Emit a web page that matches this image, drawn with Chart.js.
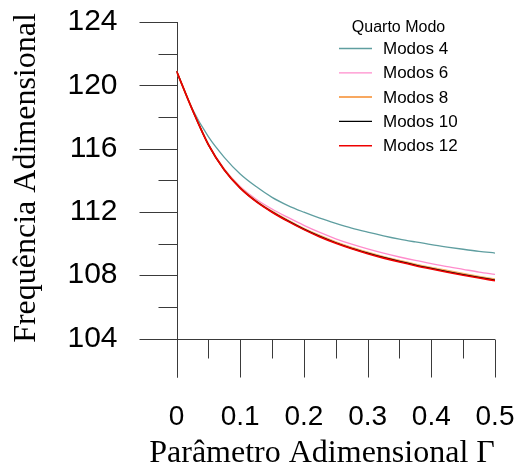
<!DOCTYPE html>
<html>
<head>
<meta charset="utf-8">
<script src="https://cdn.jsdelivr.net/npm/chart.js@4/dist/chart.umd.min.js"></script>
<style>
  html, body { margin: 0; padding: 0; background: #fff; }
</style>
</head>
<body>
<canvas id="freqChart" width="523" height="472"></canvas>
<script>
const gamma = [0, 0.025, 0.05, 0.075, 0.1, 0.125, 0.15, 0.175, 0.2, 0.225, 0.25,
  0.275, 0.3, 0.325, 0.35, 0.375, 0.4, 0.425, 0.45, 0.475, 0.5];

const modos4 = [120.9, 118.5, 116.75, 115.45, 114.4, 113.6, 112.92, 112.4, 111.98, 111.6, 111.27,
  110.97, 110.72, 110.49, 110.28, 110.1, 109.93, 109.78, 109.64, 109.51, 109.4];
const modos6 = [120.9, 118.45, 116.28, 114.72, 113.6, 112.8, 112.18, 111.65, 111.15, 110.7, 110.3,
  109.96, 109.66, 109.39, 109.15, 108.93, 108.73, 108.54, 108.37, 108.2, 108.05];
const modos8 = [120.9, 118.45, 116.26, 114.67, 113.53, 112.69, 112.03, 111.46, 110.94, 110.49, 110.09,
  109.74, 109.44, 109.16, 108.91, 108.68, 108.47, 108.28, 108.09, 107.91, 107.74];
const modos10 = [120.9, 118.45, 116.25, 114.66, 113.51, 112.67, 112.0, 111.43, 110.91, 110.45, 110.05,
  109.7, 109.4, 109.12, 108.87, 108.64, 108.43, 108.23, 108.04, 107.86, 107.69];
const modos12 = [120.9, 118.45, 116.25, 114.65, 113.5, 112.65, 111.98, 111.4, 110.88, 110.42, 110.02,
  109.67, 109.36, 109.08, 108.83, 108.6, 108.39, 108.19, 108.0, 107.82, 107.65];

const seriesLabels = ["Modos 4", "Modos 6", "Modos 8", "Modos 10", "Modos 12"];
const legendTitle = "Quarto Modo";
const xTitle = "Parâmetro Adimensional Γ";
const yTitle = "Frequência Adimensional";

const xMajorTicks = [0, 0.1, 0.2, 0.3, 0.4, 0.5];
const xMinorTicks = [0.05, 0.15, 0.25, 0.35, 0.45];
const yMajorTicks = [104, 108, 112, 116, 120, 124];
const yMinorTicks = [106, 110, 114, 118, 122];

const toPoints = (vals) => vals.map((v, i) => ({ x: gamma[i], y: v }));

// tick marks and axis lines (R style: long major ticks, short minor ones)
const axesPlugin = {
  id: "axesPlugin",
  beforeDatasetsDraw(chart) {
    const { ctx, scales: { x, y } } = chart;
    const x0 = Math.round(x.getPixelForValue(0)) + 0.5;
    const yb = Math.round(y.getPixelForValue(104)) + 0.5;
    ctx.save();
    ctx.strokeStyle = "#3a3a3a";
    ctx.lineWidth = 1;
    ctx.beginPath();
    ctx.moveTo(x0, y.getPixelForValue(124));
    ctx.lineTo(x0, yb + 38);
    ctx.moveTo(x0, yb);
    ctx.lineTo(x.getPixelForValue(0.5), yb);
    yMajorTicks.forEach((v) => {
      const p = Math.round(y.getPixelForValue(v)) + 0.5;
      ctx.moveTo(x0 - 38, p);
      ctx.lineTo(x0, p);
    });
    yMinorTicks.forEach((v) => {
      const p = Math.round(y.getPixelForValue(v)) + 0.5;
      ctx.moveTo(x0 - 19, p);
      ctx.lineTo(x0, p);
    });
    xMajorTicks.forEach((v) => {
      const p = Math.round(x.getPixelForValue(v)) + 0.5;
      ctx.moveTo(p, yb);
      ctx.lineTo(p, yb + 38);
    });
    xMinorTicks.forEach((v) => {
      const p = Math.round(x.getPixelForValue(v)) + 0.5;
      ctx.moveTo(p, yb);
      ctx.lineTo(p, yb + 19);
    });
    ctx.stroke();
    ctx.restore();
  },
  afterDraw(chart) {
    const { ctx } = chart;
    ctx.save();
    ctx.fillStyle = "#000";
    // axis titles
    ctx.font = "32px 'Liberation Serif', 'Times New Roman', serif";
    ctx.textAlign = "center";
    ctx.textBaseline = "alphabetic";
    ctx.fillText(xTitle, 322, 462);
    ctx.translate(35, 178);
    ctx.rotate(-Math.PI / 2);
    ctx.fillText(yTitle, 0, 0);
    ctx.restore();

    // legend
    ctx.save();
    ctx.font = "16px 'Liberation Sans', Arial, sans-serif";
    ctx.textAlign = "center";
    ctx.textBaseline = "middle";
    ctx.fillStyle = "#000";
    ctx.fillText(legendTitle, 398.5, 28);
    ctx.font = "17px 'Liberation Sans', Arial, sans-serif";
    ctx.textAlign = "left";
    chart.data.datasets.forEach((ds, i) => {
      const rowY = 48.5 + i * 24.3;
      ctx.strokeStyle = ds.borderColor;
      ctx.lineWidth = ds.borderWidth;
      ctx.beginPath();
      ctx.moveTo(339, rowY);
      ctx.lineTo(372, rowY);
      ctx.stroke();
      ctx.fillText(ds.label, 383, rowY + 1);
    });
    ctx.restore();
  },
};

const ctxFreq = document.getElementById("freqChart").getContext("2d");

new Chart(ctxFreq, {
  type: "line",
  data: {
    datasets: [
      { label: seriesLabels[0], data: toPoints(modos4), borderColor: "#5f9ea0", borderWidth: 1.3, order: 4 },
      { label: seriesLabels[1], data: toPoints(modos6), borderColor: "#ff8ccc", borderWidth: 1.3, order: 3 },
      { label: seriesLabels[2], data: toPoints(modos8), borderColor: "#f8a860", borderWidth: 2, order: 2 },
      { label: seriesLabels[3], data: toPoints(modos10), borderColor: "#000000", borderWidth: 1.3, order: 1 },
      { label: seriesLabels[4], data: toPoints(modos12), borderColor: "#ee0000", borderWidth: 1.6, order: 0 },
    ],
  },
  options: {
    responsive: false,
    animation: false,
    layout: { padding: { left: 0, right: 28, top: 22, bottom: 0 } },
    elements: {
      point: { radius: 0 },
      line: { cubicInterpolationMode: "monotone", fill: false },
    },
    plugins: {
      legend: { display: false },
      tooltip: { enabled: false },
    },
    scales: {
      x: {
        type: "linear",
        min: 0,
        max: 0.5,
        afterFit: (s) => { s.height = 133.5; },
        // invisible tick marks only push the labels down
        grid: { drawOnChartArea: false, drawTicks: true, tickLength: 62, tickColor: "rgba(0,0,0,0)" },
        border: { display: false },
        ticks: {
          stepSize: 0.1,
          padding: 0,
          color: "#000",
          font: { family: "'Liberation Sans', Arial, sans-serif", size: 28 },
          callback: (v) => (v === 0 ? "0" : v.toFixed(1)),
        },
      },
      y: {
        type: "linear",
        min: 104,
        max: 124,
        afterFit: (s) => { s.width = 176.5; },
        grid: { drawOnChartArea: false, drawTicks: true, tickLength: 59, tickColor: "rgba(0,0,0,0)" },
        border: { display: false },
        ticks: {
          stepSize: 4,
          padding: 0,
          color: "#000",
          font: { family: "'Liberation Sans', Arial, sans-serif", size: 30 },
        },
      },
    },
  },
  plugins: [axesPlugin],
});
</script>
</body>
</html>
